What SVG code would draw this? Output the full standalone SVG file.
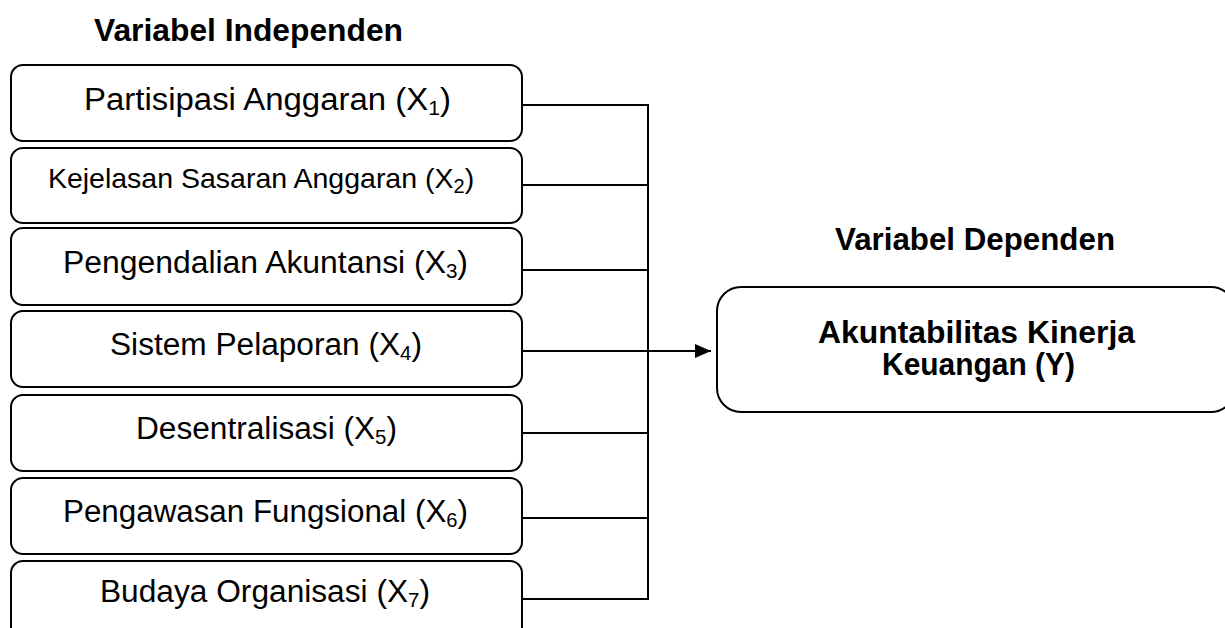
<svg xmlns="http://www.w3.org/2000/svg" width="1225" height="628" viewBox="0 0 1225 628">
<defs>
<style>
.box{fill:#fff;stroke:#000;stroke-width:2}
.lbl{font-family:"Liberation Sans",Arial,sans-serif;font-size:31px;fill:#000;text-anchor:middle}
.hdr{font-family:"Liberation Sans",Arial,sans-serif;font-size:31px;font-weight:bold;fill:#000;text-anchor:middle}
.sub{font-size:20px}
.ln{fill:none;stroke:#000;stroke-width:2}
</style>
<marker id="arr" markerWidth="16" markerHeight="14" refX="16" refY="7" orient="auto" markerUnits="userSpaceOnUse" viewBox="0 0 16 14">
<path d="M0,0 L16,7 L0,14 Z" fill="#000"/>
</marker>
</defs>
<rect width="1225" height="628" fill="#fff"/>
<text class="hdr" x="248.5" y="41" textLength="309" lengthAdjust="spacingAndGlyphs">Variabel Independen</text>
<text class="hdr" x="975" y="250" textLength="280" lengthAdjust="spacingAndGlyphs">Variabel Dependen</text>
<g id="x1"><rect class="box" x="11" y="65" width="511" height="76" rx="12"/>
<text class="lbl" x="267.5" y="110" textLength="367" lengthAdjust="spacingAndGlyphs">Partisipasi Anggaran (X<tspan class="sub" dy="5">1</tspan><tspan dy="-5">)</tspan></text></g>
<g id="x2"><rect class="box" x="11" y="148" width="511" height="75" rx="12"/>
<text class="lbl" x="261" y="188" style="font-size:28.5px">Kejelasan Sasaran Anggaran (X<tspan class="sub" dy="5">2</tspan><tspan dy="-5">)</tspan></text></g>
<g id="x3"><rect class="box" x="11" y="228" width="511" height="77" rx="12"/>
<text class="lbl" x="265.5" y="273" textLength="405" lengthAdjust="spacingAndGlyphs">Pengendalian Akuntansi (X<tspan class="sub" dy="5">3</tspan><tspan dy="-5">)</tspan></text></g>
<g id="x4"><rect class="box" x="11" y="311" width="511" height="76" rx="12"/>
<text class="lbl" x="266" y="355" textLength="312" lengthAdjust="spacingAndGlyphs">Sistem Pelaporan (X<tspan class="sub" dy="5">4</tspan><tspan dy="-5">)</tspan></text></g>
<g id="x5"><rect class="box" x="11" y="395" width="511" height="76" rx="12"/>
<text class="lbl" x="266.5" y="439" textLength="261" lengthAdjust="spacingAndGlyphs">Desentralisasi (X<tspan class="sub" dy="5">5</tspan><tspan dy="-5">)</tspan></text></g>
<g id="x6"><rect class="box" x="11" y="478" width="511" height="76" rx="12"/>
<text class="lbl" x="265.5" y="522" textLength="405" lengthAdjust="spacingAndGlyphs">Pengawasan Fungsional (X<tspan class="sub" dy="5">6</tspan><tspan dy="-5">)</tspan></text></g>
<g id="x7"><rect class="box" x="11" y="561" width="511" height="80" rx="12"/>
<text class="lbl" x="265" y="602" textLength="330" lengthAdjust="spacingAndGlyphs">Budaya Organisasi (X<tspan class="sub" dy="5">7</tspan><tspan dy="-5">)</tspan></text></g>
<g id="y"><rect class="box" x="717" y="287" width="518" height="125" rx="24"/>
<text class="hdr" x="976.5" y="343" textLength="317" lengthAdjust="spacingAndGlyphs">Akuntabilitas Kinerja</text>
<text class="hdr" x="978.5" y="375" textLength="193" lengthAdjust="spacingAndGlyphs">Keuangan (Y)</text></g>
<g id="connectors">
<path class="ln" d="M522,105 H648 M522,185 H648 M522,270 H648 M522,433 H648 M522,518 H648 M522,599 H648 M648,104 V600"/>
<path class="ln" d="M522,351 H711" marker-end="url(#arr)"/>
</g>
</svg>
